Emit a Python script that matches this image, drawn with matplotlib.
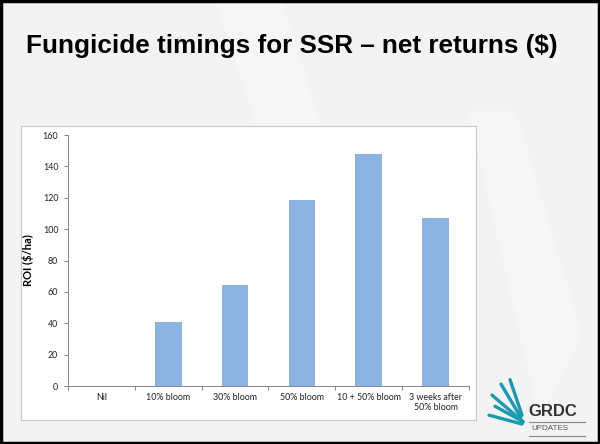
import matplotlib.pyplot as plt
import matplotlib.patches as mpatches
import numpy as np

categories = ['Nil', '10% bloom', '30% bloom', '50% bloom', '10 + 50% bloom', '3 weeks after\n50% bloom']
roi = [0, 40.6, 64.4, 118.4, 147.7, 107.3]
yticks = [0, 20, 40, 60, 80, 100, 120, 140, 160]

fig = plt.figure(figsize=(6, 4.44), dpi=100)
fig.patch.set_facecolor('#f3f3f3')

# faint watermark shapes in slide background
fig.patches.append(mpatches.Polygon([[0.36, 1.0], [0.47, 1.0], [0.62, 0.35], [0.55, 0.2]],
                                    closed=True, transform=fig.transFigure,
                                    facecolor='#f6f6f6', edgecolor='none', zorder=0))
fig.patches.append(mpatches.Polygon([[0.78, 0.75], [0.86, 0.75], [0.97, 0.25], [0.9, 0.05]],
                                    closed=True, transform=fig.transFigure,
                                    facecolor='#f6f6f6', edgecolor='none', zorder=0))

# slide border
fig.patches.append(mpatches.Rectangle((0.002, 0.003), 0.996, 0.994, transform=fig.transFigure,
                                      fill=False, edgecolor='black', linewidth=2.5, zorder=5))

# chart area box
fig.patches.append(mpatches.Rectangle((0.035, 0.054), 0.758, 0.662, transform=fig.transFigure,
                                      facecolor='white', edgecolor='#c8c8c8', linewidth=0.8, zorder=1))

fig.text(0.043, 0.896, 'Fungicide timings for SSR \u2013 net returns ($)', fontsize=18.8,
         fontweight='bold', family='Liberation Sans', va='center', ha='left')

ax = fig.add_axes([0.1133, 0.1306, 0.6683, 0.5653])
ax.set_zorder(2)
ax.patch.set_alpha(0)
x = np.arange(len(categories))
ax.bar(x, roi, width=0.4, color='#8db3e2')

ax.set_xlim(-0.5, len(categories) - 0.5)
ax.set_ylim(0, 160)
ax.set_yticks(yticks)
ax.set_xticks(x)
ax.set_xticklabels(categories, fontsize=6.4, family='Lato', color='#222222')
ax.set_xticks(np.arange(len(categories) + 1) - 0.5, minor=True)
ax.tick_params(axis='x', which='major', length=0, pad=5)
ax.tick_params(axis='x', which='minor', length=3, color='#868686', width=0.7)
ax.tick_params(axis='y', length=3, color='#868686', width=0.7, labelsize=6.4, pad=4)
for lab in ax.get_yticklabels():
    lab.set_family('Lato')
    lab.set_color('#222222')

for s in ['top', 'right']:
    ax.spines[s].set_visible(False)
for s in ['left', 'bottom']:
    ax.spines[s].set_color('#868686')
    ax.spines[s].set_linewidth(0.7)

ax.set_ylabel('ROI ($/ha)', fontsize=8, fontweight='bold', family='Lato', labelpad=6)

# GRDC logo
for x0, y0, x1, y1 in [(0.82, 0.11, 0.872, 0.05), (0.825, 0.085, 0.872, 0.05),
                       (0.835, 0.135, 0.868, 0.06), (0.85, 0.145, 0.87, 0.065),
                       (0.815, 0.065, 0.87, 0.045)]:
    fig.lines.append(plt.Line2D([x0, x1], [y0, y1], transform=fig.transFigure,
                                color='#1a9ab0', linewidth=2.4, solid_capstyle='round', zorder=3))
fig.text(0.88, 0.073, 'GRDC', fontsize=12, fontweight='bold', family='Liberation Sans',
         color='#333333', va='center', ha='left')
fig.text(0.885, 0.034, 'UPDATES', fontsize=5.8, family='Liberation Sans',
         color='#555555', va='center', ha='left')
fig.lines.append(plt.Line2D([0.882, 0.975], [0.05, 0.05], transform=fig.transFigure,
                            color='#888888', linewidth=0.8))
fig.lines.append(plt.Line2D([0.882, 0.975], [0.019, 0.019], transform=fig.transFigure,
                            color='#888888', linewidth=0.8))

fig.savefig('out.png', dpi=100, facecolor=fig.get_facecolor())
